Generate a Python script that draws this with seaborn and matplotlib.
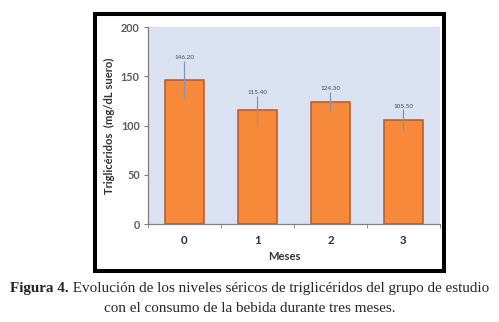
import pandas as pd
import seaborn as sns
import matplotlib.pyplot as plt
from matplotlib.patches import Rectangle

# datos
meses = ["0", "1", "2", "3"]
trigliceridos = [146.20, 115.40, 124.30, 105.50]
desviacion = [19.5, 14.6, 10.0, 11.0]
etiquetas = ["146.20", "115.40", "124.30", "105.50"]

df = pd.DataFrame({"Meses": meses, "TG": trigliceridos})

sns.set_style("white")
plt.rcParams["font.family"] = ["Lato", "DejaVu Sans"]

fig = plt.figure(figsize=(4.99, 3.22), dpi=100)

# marco negro alrededor del gráfico
fig.patches.append(Rectangle((0.190, 0.158), 0.700, 0.797, transform=fig.transFigure,
                             fill=False, edgecolor="black", linewidth=2.9, zorder=0))

ax = fig.add_axes([0.2966, 0.3043, 0.585, 0.6118])
ax.set_facecolor("#dae2f1")

sns.barplot(data=df, x="Meses", y="TG", ax=ax, color="#f7893a", saturation=1,
            width=0.53, edgecolor="#b4582a", linewidth=1.1, errorbar=None)

ax.errorbar(x=range(len(meses)), y=trigliceridos, yerr=desviacion, fmt="none",
            ecolor="#8595ab", elinewidth=0.9, capsize=0)

for i, (v, e, lab) in enumerate(zip(trigliceridos, desviacion, etiquetas)):
    ax.annotate(lab, (i, v + e), xytext=(0, 0.5), textcoords="offset points",
                ha="center", va="bottom", fontsize=4.6, color="#3d4a5c")

ax.set_ylim(0, 200)
ax.set_xlim(-0.5, 3.5)
ax.set_yticks([0, 50, 100, 150, 200])
ax.set_xticks(range(len(meses)))
ax.set_xticks([-0.5, 0.5, 1.5, 2.5, 3.5], minor=True)
ax.tick_params(axis="x", which="major", length=0, pad=8, labelsize=8.3, labelcolor="#2f2f2f")
ax.tick_params(axis="x", which="minor", length=3, direction="out", color="#808080", bottom=True)
ax.tick_params(axis="y", length=3, direction="out", color="#808080", left=True,
               labelsize=7.8, labelcolor="#5a5a5a", pad=3)
for t in ax.get_xticklabels() + ax.get_yticklabels():
    t.set_fontweight("bold")

for s in ["top", "right"]:
    ax.spines[s].set_visible(False)
for s in ["left", "bottom"]:
    ax.spines[s].set_color("#808080")
    ax.spines[s].set_linewidth(0.9)

ax.set_xlabel("Meses", fontsize=8, fontweight="bold", color="#333333", labelpad=4)
ax.xaxis.set_label_coords(0.466, -0.135)
ax.set_ylabel("Triglicéridos  (mg/dL suero)", fontsize=8.1, fontweight="bold",
              color="#333333", labelpad=4)

# leyenda de la figura (texto en serif, "Figura 4." en negrita)
serif = ["Liberation Serif", "DejaVu Serif"]
fs = 10.9
renderer = fig.canvas.get_renderer()
t1 = fig.text(0, 0, "Figura 4.", fontsize=fs, fontweight="bold", family=serif)
t2 = fig.text(0, 0, " Evolución de los niveles séricos de triglicéridos del grupo de estudio",
              fontsize=fs, family=serif)
w1 = t1.get_window_extent(renderer).width
w2 = t2.get_window_extent(renderer).width
x0 = (fig.bbox.width - w1 - w2) / 2
y1 = 1 - 292 / 322
t1.set_position((x0 / fig.bbox.width, y1))
t2.set_position(((x0 + w1) / fig.bbox.width, y1))
fig.text(0.5, 1 - 312 / 322, "con el consumo de la bebida durante tres meses.",
         fontsize=fs, family=serif, ha="center")

fig.savefig("out.png", dpi=100)
